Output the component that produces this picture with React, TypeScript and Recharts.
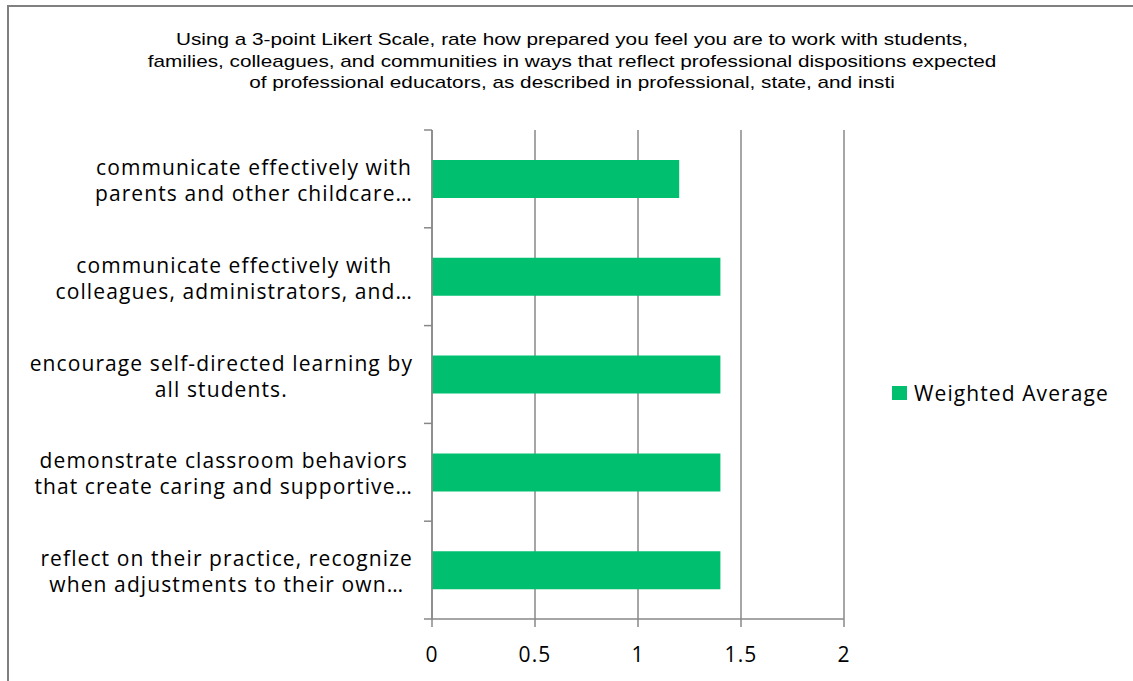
import React from 'react';
import { BarChart, Bar, XAxis, YAxis, CartesianGrid } from 'recharts';

// survey item labels, already wrapped into the two lines shown on the chart
const itemLines: string[][] = [
    ['communicate effectively with', 'parents and other childcare…'],
    ['communicate effectively with', 'colleagues, administrators, and…'],
    ['encourage self-directed learning by', 'all students.'],
    ['demonstrate classroom behaviors', 'that create caring and supportive…'],
    ['reflect on their practice, recognize', 'when adjustments to their own…'],
];
const weightedAverage: number[] = [1.2, 1.4, 1.4, 1.4, 1.4];
const xTicks: number[] = [0, 0.5, 1, 1.5, 2];
const titleLines: string[] = [
    'Using a 3-point Likert Scale, rate how prepared you feel you are to work with students,',
    'families, colleagues, and communities in ways that reflect professional dispositions expected',
    'of professional educators, as described in professional, state, and insti',
];
const seriesName = 'Weighted Average';

const data = itemLines.map((lines, i) => ({
    item: lines.join(' '),
    value: weightedAverage[i],
}));

const W = 1133;
const H = 681;
const LABEL_FONT = 'Open Sans';
const LABEL_SIZE = 21;
const LABEL_SPACING = 1.1;
const GREEN = '#00C070';
const GRID = '#888888';

const TOP = 130;
const BOTTOM = 619;
const AXIS_X = 432;
const BAND = (BOTTOM - TOP) / itemLines.length;

let ctx: CanvasRenderingContext2D | null = null;
function textWidth(s: string) {
    if (!ctx) ctx = document.createElement('canvas').getContext('2d');
    if (!ctx) return s.length * LABEL_SIZE * 0.5;
    ctx.font = `${LABEL_SIZE}px "${LABEL_FONT}"`;
    (ctx as any).letterSpacing = `${LABEL_SPACING}px`;
    return ctx.measureText(s).width;
}

function ItemTick(props: any) {
    const { y, index } = props;
    const lines = itemLines[index] || [];
    const maxW = Math.max(...lines.map(textWidth));
    const cx = 413 - maxW / 2;
    const top = y - BAND / 2;
    return (
        <g>
            <line x1={AXIS_X - 8} x2={AXIS_X} y1={top} y2={top} stroke={GRID} strokeWidth={1.5} />
            {index === itemLines.length - 1 && (
                <line x1={AXIS_X - 8} x2={AXIS_X} y1={top + BAND} y2={top + BAND} stroke={GRID} strokeWidth={1.5} />
            )}
            <text
                x={cx}
                y={y}
                textAnchor="middle"
                fontFamily={LABEL_FONT}
                fontSize={LABEL_SIZE}
                letterSpacing={LABEL_SPACING}
                fill="#000"
            >
                {lines.map((l, k) => (
                    <tspan key={k} x={cx} dy={k === 0 ? -4 : 26}>{l}</tspan>
                ))}
            </text>
        </g>
    );
}

export default function App() {
    return (
        <div style={{ position: 'absolute', left: 0, top: 0, width: W, height: H, background: '#fff', overflow: 'hidden' }}>
            <div style={{ position: 'absolute', left: 7, top: 5, width: W, height: H, borderLeft: '2px solid #808080', borderTop: '2px solid #808080' }} />
            <div
                style={{
                    position: 'absolute',
                    left: 0,
                    width: 1144,
                    top: 29,
                    textAlign: 'center',
                    fontFamily: '"Liberation Sans", Arial, sans-serif',
                    fontSize: 17,
                    lineHeight: '21.5px',
                    color: '#000',
                    whiteSpace: 'nowrap',
                    transform: 'scaleX(1.22)',
                    transformOrigin: '572px 0',
                }}
            >
                {titleLines.map((t, i) => (
                    <div key={i}>{t}</div>
                ))}
            </div>
            <div style={{ position: 'absolute', left: 0, top: 0 }}>
                <BarChart
                    width={W}
                    height={H}
                    data={data}
                    layout="vertical"
                    margin={{ top: TOP, right: W - 844, bottom: 22, left: 0 }}
                >
                    <CartesianGrid horizontal={false} stroke={GRID} strokeWidth={1.5} />
                    <XAxis
                        type="number"
                        domain={[0, 2]}
                        ticks={xTicks}
                        height={40}
                        tickSize={8}
                        tickMargin={20}
                        stroke={GRID}
                        strokeWidth={1.5}
                        tick={{ fill: '#000', fontFamily: LABEL_FONT, fontSize: LABEL_SIZE, letterSpacing: LABEL_SPACING }}
                        tickFormatter={(v) => String(v)}
                    />
                    <YAxis
                        type="category"
                        dataKey="item"
                        width={AXIS_X}
                        tickLine={false}
                        stroke={GRID}
                        strokeWidth={1.5}
                        interval={0}
                        tick={<ItemTick />}
                    />
                    <Bar dataKey="value" name={seriesName} fill={GREEN} barSize={38} isAnimationActive={false} />
                </BarChart>
            </div>
            <div
                style={{
                    position: 'absolute',
                    left: 892,
                    top: 379,
                    display: 'flex',
                    alignItems: 'center',
                    fontFamily: LABEL_FONT,
                    fontSize: LABEL_SIZE,
                    letterSpacing: LABEL_SPACING,
                    color: '#000',
                    whiteSpace: 'nowrap',
                }}
            >
                <span style={{ width: 15, height: 14, background: GREEN, display: 'inline-block', marginRight: 7 }} />
                {seriesName}
            </div>
        </div>
    );
}
